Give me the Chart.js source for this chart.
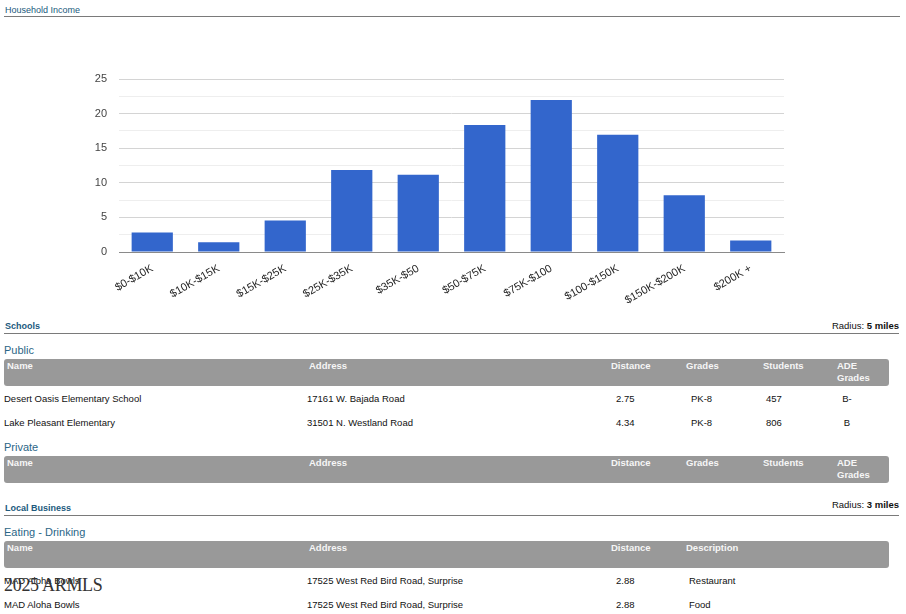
<!DOCTYPE html>
<html>
<head>
<meta charset="utf-8">
<script src="https://cdn.jsdelivr.net/npm/chart.js@4.4.1/dist/chart.umd.min.js"></script>
<style>
  html, body { margin:0; padding:0; background:#fff; }
  body { width:906px; height:614px; position:relative; overflow:hidden; font-family:"Liberation Sans", Arial, sans-serif; }
  .t { position:absolute; white-space:nowrap; line-height:12px; font-size:9.5px; color:#111; }
  .sec { font-size:9px; color:#215a7d; }
  .b { font-weight:bold; }
  .sub { font-size:11px; color:#2b6687; line-height:14px; }
  .rule { position:absolute; height:1px; background:#7a7a7a; }
  .hdr { position:absolute; left:4px; width:885px; height:27px; background:#999; border-radius:3px; }
  .h { color:#f6f6f6; font-weight:bold; }
  .wm { position:absolute; font-family:"Liberation Serif", "DejaVu Serif", serif; font-size:18px; color:#333; line-height:20px; white-space:nowrap; letter-spacing:-0.3px; }
  #wrap { position:absolute; left:0; top:30px; width:800px; height:282px; }
</style>
</head>
<body>
<div class="t sec" style="left:5px; top:4px;">Household Income</div>
<div class="rule" style="left:4px; top:16px; width:896px;"></div>

<div id="wrap"><canvas id="c"></canvas></div>

<div id="tables"></div>

<script>
// ---- chart data ----
const categories = ["$0-$10K", "$10K-$15K", "$15K-$25K", "$25K-$35K", "$35K-$50", "$50-$75K", "$75K-$100", "$100-$150K", "$150K-$200K", "$200K +"];
const values = [2.8, 1.4, 4.55, 11.85, 11.15, 18.35, 21.95, 16.95, 8.2, 1.65];
const yTickLabels = ["0", "5", "10", "15", "20", "25"];
const yMax = 25;
const yStep = 2.5;

new Chart(document.getElementById('c'), {
  type: 'bar',
  data: {
    labels: categories,
    datasets: [{
      data: values,
      backgroundColor: '#3366cc',
      borderWidth: 0,
      barPercentage: 0.62,
      categoryPercentage: 1.0
    }]
  },
  options: {
    responsive: true,
    maintainAspectRatio: false,
    animation: false,
    layout: { padding: { top: 49, right: 16, left: 0, bottom: 0 } },
    plugins: { legend: { display: false }, tooltip: { enabled: false } },
    scales: {
      x: {
        grid: { display: false },
        border: { display: true, color: '#8a8a8a', width: 1 },
        ticks: {
          color: '#222',
          font: { family: 'Liberation Sans, Arial', size: 11 },
          minRotation: 30, maxRotation: 30,
          autoSkip: false,
          padding: 2
        },
        afterFit: s => { s.height = 60; }
      },
      y: {
        min: 0, max: yMax,
        border: { display: false },
        grid: {
          drawTicks: false,
          color: ctx => {
            const v = ctx.tick ? ctx.tick.value : 0;
            if (v === 0) return '#8a8a8a';
            return (Math.abs(v % 5) < 1e-6) ? '#d4d4d4' : '#eeeeee';
          },
          lineWidth: 1
        },
        ticks: {
          stepSize: yStep,
          color: '#444',
          padding: 12,
          font: { family: 'Liberation Sans, Arial', size: 11 },
          callback: v => {
            const i = yTickLabels.indexOf(String(v));
            return i >= 0 ? yTickLabels[i] : '';
          }
        },
        afterFit: s => { s.width = 119; }
      }
    }
  }
});

// ---- table content ----
const schoolCols = ["Name", "Address", "Distance", "Grades", "Students", "ADE"];
const publicSchools = [
  ["Desert Oasis Elementary School", "17161 W. Bajada Road", "2.75", "PK-8", "457", "B-"],
  ["Lake Pleasant Elementary", "31501 N. Westland Road", "4.34", "PK-8", "806", "B"]
];
const bizCols = ["Name", "Address", "Distance", "Description"];
const eating = [
  ["MAD Aloha Bowls", "17525 West Red Bird Road, Surprise", "2.88", "Restaurant"],
  ["MAD Aloha Bowls", "17525 West Red Bird Road, Surprise", "2.88", "Food"]
];

const T = document.getElementById('tables');
function add(html) { T.insertAdjacentHTML('beforeend', html); }
function txt(x, cy, s, cls, extra) {
  add(`<div class="t ${cls||''}" style="left:${x}px; top:${cy-6}px;${extra||''}">${s}</div>`);
}
function rtxt(r, cy, s, cls) {
  add(`<div class="t ${cls||''}" style="right:${r}px; top:${cy-6}px;">${s}</div>`);
}

// Schools
txt(5, 325.5, "Schools", "sec b");
rtxt(7, 325.5, 'Radius: <b>5 miles</b>');
add('<div class="rule" style="left:4px; top:333px; width:895px;"></div>');
add(`<div class="t sub" style="left:4px; top:343px;">Public</div>`);

const hdrX = [7, 309, 611, 686, 763, 837];
const cellX = [4, 307, 616, 691, 766, 0];
function schoolHeader(top) {
  add(`<div class="hdr" style="top:${top}px;"></div>`);
  const cy = top + 6.5;
  schoolCols.forEach((c, i) => txt(hdrX[i], cy, c, "h"));
  txt(hdrX[5], cy + 12.5, "Grades", "h");
}
schoolHeader(359);
[399, 422.7].forEach((cy, r) => {
  const row = publicSchools[r];
  for (let i = 0; i < 5; i++) txt(cellX[i], cy, row[i], "");
  add(`<div class="t" style="left:832px; width:30px; text-align:center; top:${cy-6}px;">${row[5]}</div>`);
});

add(`<div class="t sub" style="left:4px; top:440px;">Private</div>`);
schoolHeader(456);

// Local Business
txt(5, 508, "Local Business", "sec b");
rtxt(7, 505, 'Radius: <b>3 miles</b>');
add('<div class="rule" style="left:4px; top:515px; width:895px;"></div>');
add(`<div class="t sub" style="left:4px; top:525px;">Eating - Drinking</div>`);
add(`<div class="hdr" style="top:541px;"></div>`);
const bizHdrX = [7, 309, 611, 686];
const bizCellX = [4, 307, 616, 689];
bizCols.forEach((c, i) => txt(bizHdrX[i], 547.5, c, "h"));
[580.5, 604.5].forEach((cy, r) => {
  eating[r].forEach((v, i) => txt(bizCellX[i], cy, v, ""));
});

// watermark
add('<div class="wm" style="left:4px; top:575px;">2025 ARMLS</div>');
</script>
</body>
</html>
